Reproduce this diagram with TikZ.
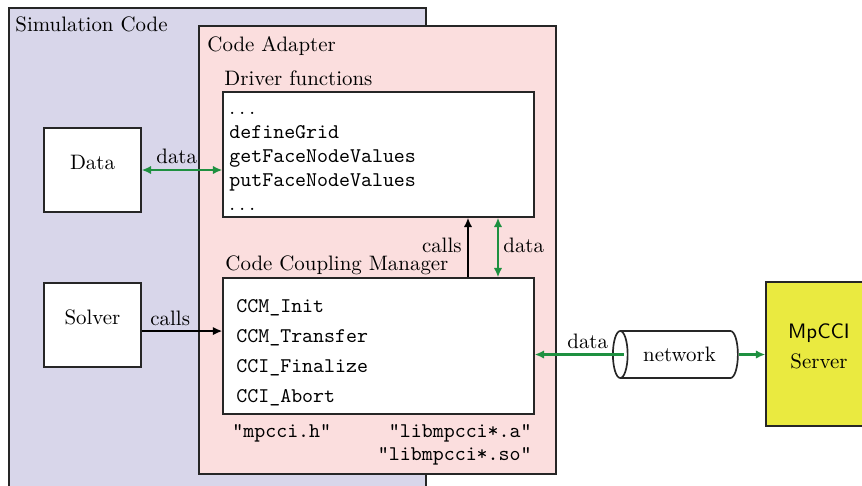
\documentclass[tikz,border=0pt]{standalone}
\usepackage{fontspec}
\usetikzlibrary{arrows.meta,shapes.geometric,fit,calc}
\definecolor{simbg}{HTML}{D8D6EA}
\definecolor{adbg}{HTML}{FBDEDE}
\definecolor{srvbg}{HTML}{EAEA40}
\definecolor{dgreen}{HTML}{1E9040}
\newcommand{\mydots}{.\kern2pt.\kern2pt.}
\begin{document}
\begin{tikzpicture}[x=0.4785pt,y=-0.4785pt,
  box/.style={draw=black!85,line width=0.6pt,fill=white,inner sep=0pt},
  lbl/.style={anchor=base west,inner sep=0pt},
  lble/.style={anchor=base east,inner sep=0pt},
  code/.style={anchor=base west,inner sep=0pt,font=\ttfamily},
  codee/.style={anchor=base east,inner sep=0pt,font=\ttfamily},
  tip/.style={-{Latex[length=4.5pt,width=4pt]}},
  arr/.style={line width=1pt,tip},
  darr/.style={line width=1pt,draw=dgreen,{Latex[length=4.5pt,width=4pt]}-{Latex[length=4.5pt,width=4pt]}}]
\clip (0,0) rectangle (862,485);
\useasboundingbox (0,0) rectangle (862,485);
% containers
\node[box,fill=simbg,fit={(9,8)(426,500)}] (sim) {};
\node[box,fill=adbg,fit={(199,26)(556,474)}] (adapter) {};
\node[lbl] (simlbl) at (15,31) {Simulation Code};
\node[lbl] (adlbl) at (207,51) {Code Adapter};
% driver functions
\node[lbl] (drvlbl) at (224,85) {Driver functions};
\node[box,fit={(223,92)(534,217)}] (driver) {};
\node[lbl] (d1) at (229,114) {\mydots};
\node[code] (d2) at (229,138) {defineGrid};
\node[code] (d3) at (229,162) {getFaceNodeValues};
\node[code] (d4) at (229,186) {putFaceNodeValues};
\node[lbl] (d5) at (229,210) {\mydots};
% CCM
\node[lbl] (ccmlbl) at (225,270) {Code Coupling Manager};
\node[box,fit={(223,278)(534,414)}] (ccm) {};
\node[code] (c1) at (236,312) {CCM\_Init};
\node[code] (c2) at (236,342) {CCM\_Transfer};
\node[code] (c3) at (236,372) {CCI\_Finalize};
\node[code] (c4) at (236,402) {CCI\_Abort};
\node[code] (h1) at (232,437) {"mpcci.h"};
\node[codee] (h2) at (532,437) {"libmpcci*.a"};
\node[codee] (h3) at (532,460) {"libmpcci*.so"};
% simulation boxes
\node[box,fit={(44,128)(141,212)}] (data) {Data};
\node[box,fit={(44,283)(141,367)}] (solver) {Solver};
% network and server
\node[draw=black!85,line width=0.8pt,fill=white,shape=cylinder,shape border rotate=180,
  aspect=1,minimum height=59.8pt,minimum width=22.5pt,inner sep=0pt] (network) at (679.5,354.5) {network};
\node[box,fill=srvbg,fit={(766,282)(872,426)},align=center] (mpcci) {{\sffamily MpCCI}\\[2.4pt]Server};
% connectors
\draw[darr] (data.east) -- (data.east -| driver.west);
\node[lbl] (l1) at (156,163) {data};
\draw[arr] ([yshift=-2.9pt]solver.east) -- ([yshift=-2.9pt]solver.east -| ccm.west);
\node[lbl] (l2) at (150,325) {calls};
\coordinate (cx) at (468,0);
\coordinate (dx) at (498,0);
\draw[arr] (ccm.north -| cx) -- (driver.south -| cx);
\node[lble] (l3) at (462,252) {calls};
\draw[darr] (driver.south -| dx) -- (ccm.north -| dx);
\node[lbl] (l4) at (503,252) {data};
\draw[arr,draw=dgreen] ([xshift=5.5pt]network.west) -- (network.west -| ccm.east);
\node[lbl] (l5) at (567,348) {data};
\draw[arr,draw=dgreen] (network.east) -- (network.east -| mpcci.west);
\end{tikzpicture}
\end{document}
